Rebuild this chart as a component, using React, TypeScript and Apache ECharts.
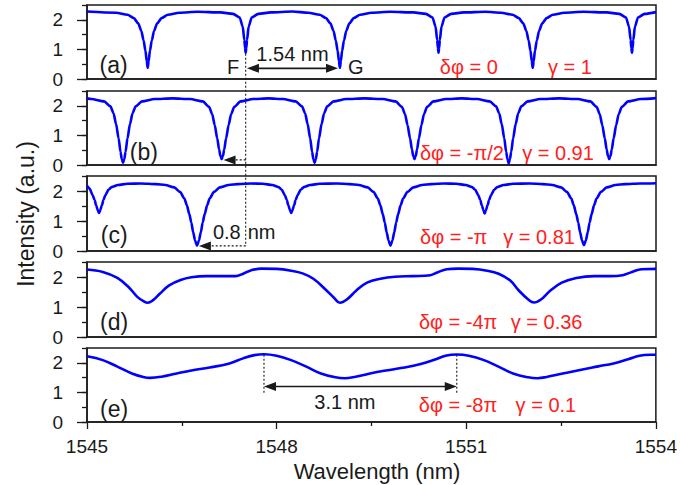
import React, { useEffect, useRef } from "react";
import * as echarts from "echarts";

// ---------- data (wavelength nm, intensity a.u.) ----------
const X_TICK_VALUES = [1545, 1548, 1551, 1554];
const Y_TICK_VALUES = [0, 1, 2];

const panelA: [number, number][] = [
  [1545.0, 2.28],
  [1545.46, 2.24], [1545.64, 2.17], [1545.74, 2.06], [1545.81, 1.88], [1545.86, 1.62], [1545.895, 1.3], [1545.925, 0.95], [1545.945, 0.6], [1545.96, 0.38], [1545.975, 0.6], [1545.995, 0.95], [1546.025, 1.3], [1546.06, 1.62], [1546.11, 1.88], [1546.18, 2.06], [1546.28, 2.17], [1546.46, 2.24],
  [1546.75, 2.27],
  [1547.11, 2.25], [1547.31, 2.2], [1547.415, 2.08], [1547.463, 1.77], [1547.489, 1.32], [1547.5, 1.05], [1547.51, 0.89], [1547.52, 1.05], [1547.531, 1.32], [1547.557, 1.77], [1547.605, 2.08], [1547.71, 2.2], [1547.91, 2.25],
  [1548.25, 2.28],
  [1548.5, 2.24], [1548.68, 2.17], [1548.78, 2.06], [1548.85, 1.88], [1548.9, 1.62], [1548.935, 1.3], [1548.965, 0.95], [1548.985, 0.6], [1549.0, 0.38], [1549.015, 0.6], [1549.035, 0.95], [1549.065, 1.3], [1549.1, 1.62], [1549.15, 1.88], [1549.22, 2.06], [1549.32, 2.17], [1549.5, 2.24],
  [1549.8, 2.27],
  [1550.16, 2.25], [1550.36, 2.2], [1550.465, 2.08], [1550.513, 1.77], [1550.539, 1.32], [1550.55, 1.05], [1550.56, 0.89], [1550.57, 1.05], [1550.581, 1.32], [1550.607, 1.77], [1550.655, 2.08], [1550.76, 2.2], [1550.96, 2.25],
  [1551.3, 2.27],
  [1551.55, 2.24], [1551.73, 2.17], [1551.83, 2.06], [1551.9, 1.88], [1551.95, 1.62], [1551.985, 1.3], [1552.015, 0.95], [1552.035, 0.6], [1552.05, 0.38], [1552.065, 0.6], [1552.085, 0.95], [1552.115, 1.3], [1552.15, 1.62], [1552.2, 1.88], [1552.27, 2.06], [1552.37, 2.17], [1552.55, 2.24],
  [1552.85, 2.27],
  [1553.22, 2.25], [1553.42, 2.2], [1553.525, 2.08], [1553.573, 1.77], [1553.599, 1.32], [1553.61, 1.05], [1553.62, 0.89], [1553.63, 1.05], [1553.641, 1.32], [1553.667, 1.77], [1553.715, 2.08], [1553.82, 2.2],
  [1554.0, 2.26],
];

const panelB: [number, number][] = [
  [1545.0, 2.25],
  [1545.07, 2.23], [1545.27, 2.15], [1545.37, 1.98], [1545.42, 1.75], [1545.46, 1.38], [1545.5, 0.9], [1545.53, 0.45], [1545.55, 0.2], [1545.57, 0.07], [1545.59, 0.2], [1545.61, 0.45], [1545.64, 0.9], [1545.68, 1.38], [1545.72, 1.75], [1545.77, 1.98], [1545.87, 2.15], [1546.07, 2.23],
  [1546.35, 2.25],
  [1546.63, 2.23], [1546.83, 2.15], [1546.93, 1.97], [1546.98, 1.72], [1547.02, 1.35], [1547.06, 0.9], [1547.09, 0.52], [1547.11, 0.3], [1547.13, 0.2], [1547.15, 0.3], [1547.17, 0.52], [1547.2, 0.9], [1547.24, 1.35], [1547.28, 1.72], [1547.33, 1.97], [1547.43, 2.15], [1547.63, 2.23],
  [1547.87, 2.25],
  [1548.1, 2.23], [1548.3, 2.15], [1548.4, 1.98], [1548.45, 1.75], [1548.49, 1.38], [1548.53, 0.9], [1548.56, 0.45], [1548.58, 0.2], [1548.6, 0.07], [1548.62, 0.2], [1548.64, 0.45], [1548.67, 0.9], [1548.71, 1.38], [1548.75, 1.75], [1548.8, 1.98], [1548.9, 2.15], [1549.1, 2.23],
  [1549.39, 2.25],
  [1549.68, 2.23], [1549.88, 2.15], [1549.98, 1.97], [1550.03, 1.72], [1550.07, 1.35], [1550.11, 0.9], [1550.14, 0.52], [1550.16, 0.3], [1550.18, 0.2], [1550.2, 0.3], [1550.22, 0.52], [1550.25, 0.9], [1550.29, 1.35], [1550.33, 1.72], [1550.38, 1.97], [1550.48, 2.15], [1550.68, 2.23],
  [1550.93, 2.25],
  [1551.17, 2.23], [1551.37, 2.15], [1551.47, 1.98], [1551.52, 1.75], [1551.56, 1.38], [1551.6, 0.9], [1551.63, 0.45], [1551.65, 0.2], [1551.67, 0.05], [1551.69, 0.2], [1551.71, 0.45], [1551.74, 0.9], [1551.78, 1.38], [1551.82, 1.75], [1551.87, 1.98], [1551.97, 2.15], [1552.17, 2.23],
  [1552.47, 2.25],
  [1552.76, 2.23], [1552.96, 2.15], [1553.06, 1.97], [1553.11, 1.72], [1553.15, 1.35], [1553.19, 0.9], [1553.22, 0.52], [1553.24, 0.3], [1553.26, 0.2], [1553.28, 0.3], [1553.3, 0.52], [1553.33, 0.9], [1553.37, 1.35], [1553.41, 1.72], [1553.46, 1.97], [1553.56, 2.15], [1553.76, 2.23],
  [1554.0, 2.26],
];

const panelC: [number, number][] = [
  [1545.0, 2.18], [1545.04, 2.08], [1545.09, 1.86], [1545.12, 1.7], [1545.145, 1.52], [1545.17, 1.36], [1545.19, 1.27], [1545.21, 1.36], [1545.235, 1.52], [1545.26, 1.7], [1545.29, 1.86], [1545.34, 2.04], [1545.39, 2.13], [1545.49, 2.2], [1545.64, 2.24],
  [1545.85, 2.25],
  [1546.09, 2.23], [1546.24, 2.2], [1546.38, 2.12], [1546.47, 1.97], [1546.54, 1.75], [1546.58, 1.52], [1546.62, 1.22], [1546.65, 0.95], [1546.68, 0.62], [1546.71, 0.35], [1546.74, 0.18], [1546.77, 0.35], [1546.8, 0.62], [1546.83, 0.95], [1546.86, 1.22], [1546.9, 1.52], [1546.94, 1.75], [1547.01, 1.97], [1547.1, 2.12], [1547.24, 2.2], [1547.39, 2.23],
  [1547.6, 2.25],
  [1547.78, 2.24], [1547.93, 2.2], [1548.03, 2.13], [1548.08, 2.04], [1548.13, 1.86], [1548.16, 1.7], [1548.185, 1.52], [1548.21, 1.36], [1548.23, 1.27], [1548.25, 1.36], [1548.275, 1.52], [1548.3, 1.7], [1548.33, 1.86], [1548.38, 2.04], [1548.43, 2.13], [1548.53, 2.2], [1548.68, 2.24],
  [1548.95, 2.25],
  [1549.15, 2.23], [1549.3, 2.2], [1549.44, 2.12], [1549.53, 1.97], [1549.6, 1.75], [1549.64, 1.52], [1549.68, 1.22], [1549.71, 0.95], [1549.74, 0.62], [1549.77, 0.35], [1549.8, 0.18], [1549.83, 0.35], [1549.86, 0.62], [1549.89, 0.95], [1549.92, 1.22], [1549.96, 1.52], [1550.0, 1.75], [1550.07, 1.97], [1550.16, 2.12], [1550.3, 2.2], [1550.45, 2.23],
  [1550.65, 2.25],
  [1550.84, 2.24], [1550.99, 2.2], [1551.09, 2.13], [1551.14, 2.04], [1551.19, 1.86], [1551.22, 1.7], [1551.245, 1.52], [1551.27, 1.36], [1551.29, 1.25], [1551.31, 1.36], [1551.335, 1.52], [1551.36, 1.7], [1551.39, 1.86], [1551.44, 2.04], [1551.49, 2.13], [1551.59, 2.2], [1551.74, 2.24],
  [1552.0, 2.25],
  [1552.21, 2.23], [1552.36, 2.2], [1552.5, 2.12], [1552.59, 1.97], [1552.66, 1.75], [1552.7, 1.52], [1552.74, 1.22], [1552.77, 0.95], [1552.8, 0.62], [1552.83, 0.35], [1552.86, 0.2], [1552.89, 0.35], [1552.92, 0.62], [1552.95, 0.95], [1552.98, 1.22], [1553.02, 1.52], [1553.06, 1.75], [1553.13, 1.97], [1553.22, 2.12], [1553.36, 2.2], [1553.51, 2.23],
  [1553.75, 2.25], [1554.0, 2.26],
];

const panelD: [number, number][] = [
  [1545.0, 2.25], [1545.25, 2.17], [1545.48, 1.97], [1545.66, 1.66], [1545.8, 1.33], [1545.92, 1.16], [1545.96, 1.14], [1546.04, 1.22], [1546.15, 1.44], [1546.3, 1.72], [1546.48, 1.9], [1546.65, 1.99], [1546.89, 2.03], [1547.12, 2.03], [1547.35, 2.03], [1547.47, 2.11], [1547.59, 2.22], [1547.76, 2.28],
  [1548.0, 2.27], [1548.23, 2.21], [1548.41, 2.12], [1548.58, 1.94], [1548.76, 1.61], [1548.91, 1.3], [1549.0, 1.14], [1549.11, 1.25], [1549.26, 1.55], [1549.43, 1.81], [1549.64, 1.94], [1549.87, 2.01], [1550.16, 2.03], [1550.43, 2.06], [1550.54, 2.15], [1550.69, 2.26], [1550.87, 2.28],
  [1551.1, 2.27], [1551.33, 2.21], [1551.51, 2.11], [1551.69, 1.89], [1551.83, 1.55], [1551.98, 1.25], [1552.07, 1.15], [1552.18, 1.25], [1552.33, 1.55], [1552.51, 1.81], [1552.74, 1.97], [1553.03, 2.03], [1553.27, 2.03], [1553.47, 2.06], [1553.62, 2.17], [1553.77, 2.26], [1554.0, 2.27],
];

const panelE: [number, number][] = [
  [1545.0, 2.22], [1545.25, 2.09], [1545.48, 1.87], [1545.71, 1.64], [1545.89, 1.52], [1546.0, 1.49], [1546.18, 1.53], [1546.42, 1.64], [1546.65, 1.74], [1546.94, 1.84], [1547.24, 1.97], [1547.47, 2.15], [1547.65, 2.26], [1547.8, 2.29],
  [1548.0, 2.24], [1548.23, 2.09], [1548.47, 1.87], [1548.7, 1.64], [1548.93, 1.51], [1549.08, 1.48], [1549.23, 1.52], [1549.46, 1.63], [1549.7, 1.73], [1549.99, 1.83], [1550.28, 1.96], [1550.52, 2.12], [1550.69, 2.25], [1550.85, 2.28],
  [1551.04, 2.24], [1551.28, 2.09], [1551.51, 1.87], [1551.74, 1.64], [1551.98, 1.51], [1552.13, 1.48], [1552.27, 1.52], [1552.51, 1.63], [1552.8, 1.76], [1553.09, 1.88], [1553.33, 1.98], [1553.56, 2.12], [1553.74, 2.24], [1553.91, 2.27], [1554.0, 2.27],
];

const PANELS = [panelA, panelB, panelC, panelD, panelE];
const PANEL_LETTERS = ["(a)", "(b)", "(c)", "(d)", "(e)"];
const DELTA_PHI = ["δφ = 0", "δφ = -π/2", "δφ = -π", "δφ = -4π", "δφ = -8π"];
const GAMMA = ["γ = 1", "γ = 0.91", "γ = 0.81", "γ = 0.36", "γ = 0.1"];

// annotation anchors, in data units [wavelength, intensity]
const LETTER_AT: [number, number][] = [[1545.42, 0.47], [1545.9, 0.44], [1545.43, 0.54], [1545.43, 0.51], [1545.43, 0.44]];
const DPHI_AT: [number, number][] = [[1551.04, 0.41], [1550.93, 0.41], [1550.8, 0.47], [1550.87, 0.51], [1550.87, 0.58]];
const GAMMA_AT: [number, number][] = [[1552.64, 0.41], [1552.45, 0.41], [1552.15, 0.47], [1552.27, 0.51], [1552.26, 0.58]];
const F_WL = 1547.51;
const G_WL = 1548.97;
const FSR_PEAKS = [1547.8, 1550.85];

// ---------- layout ----------
const LEFT = 87;
const WIDTH = 569;
const TOPS = [5, 91, 176, 262, 348];
const HEIGHTS = [74, 74, 75, 75, 74];
const SMOOTH = [0.25, 0.25, 0.25, 0.4, 0.4];
const FONT = '"Liberation Sans", Arial, sans-serif';
const INK = "#1a1a1a";
const RED = "#ff2020";

export default function App() {
  const ref = useRef<HTMLDivElement>(null);
  useEffect(() => {
    if (!ref.current) return;
    const chart = echarts.init(ref.current, null, { renderer: "svg" });
    const grids = TOPS.map((t, i) => ({
      left: LEFT,
      width: WIDTH,
      top: t,
      height: HEIGHTS[i],
      show: true,
      borderColor: INK,
      borderWidth: 1.5,
      backgroundColor: "transparent",
    }));
    const xAxes = PANELS.map((_, i) => ({
      gridIndex: i,
      type: "value",
      min: 1545,
      max: 1554,
      interval: 3,
      axisLine: { show: true, lineStyle: { color: INK, width: 1.5 } },
      axisTick: { show: i === 4, inside: false, length: 7, lineStyle: { color: INK, width: 1.3 } },
      minorTick: { show: i === 4, splitNumber: 2, length: 4, lineStyle: { color: INK, width: 1.3 } },
      axisLabel: {
        show: i === 4,
        customValues: X_TICK_VALUES,
        formatter: (v: number) => String(Math.round(v)),
        margin: 15,
        color: INK,
        fontSize: 19,
        fontFamily: FONT,
      },
      splitLine: { show: false },
      minorSplitLine: { show: false },
    }));
    const yAxes: any[] = [];
    PANELS.forEach((_, i) => {
      yAxes.push({
        gridIndex: i,
        type: "value",
        position: "left",
        min: 0,
        max: 2.5,
        interval: 0.5,
        axisLine: { show: true, lineStyle: { color: INK, width: 1.5 } },
        axisTick: { show: true, inside: false, length: 5, lineStyle: { color: INK, width: 1.3 } },
        axisLabel: {
          show: true,
          customValues: Y_TICK_VALUES,
          formatter: (v: number) => String(Math.round(v)),
          margin: 24,
          color: INK,
          fontSize: 19,
          fontFamily: FONT,
        },
        splitLine: { show: false },
      });
      yAxes.push({
        gridIndex: i,
        type: "value",
        position: "left",
        offset: 0,
        min: 0,
        max: 2.5,
        interval: 0.5,
        axisLine: { show: false },
        axisTick: { show: true, inside: false, length: 10, customValues: Y_TICK_VALUES, lineStyle: { color: INK, width: 1.3 } },
        axisLabel: { show: false },
        splitLine: { show: false },
      });
    });
    const series = PANELS.map((d, i) => ({
      type: "line",
      xAxisIndex: i,
      yAxisIndex: 2 * i,
      data: d,
      showSymbol: false,
      smooth: SMOOTH[i],
      smoothMonotone: i < 3 ? "x" : undefined,
      lineStyle: { color: "#0000ff", width: 2.6 },
      z: 3,
    }));
    chart.setOption({
      animation: false,
      backgroundColor: "#ffffff",
      grid: grids,
      xAxis: xAxes,
      yAxis: yAxes,
      series,
    });

    const px = (g: number, p: [number, number]) => chart.convertToPixel({ gridIndex: g }, p) as number[];
    const txt = (x: number, y: number, text: string, size: number, color: string, align = "center", rotation = 0) => ({
      type: "text",
      x,
      y,
      rotation,
      z: 10,
      style: {
        text,
        fill: color,
        fontSize: size,
        fontFamily: FONT,
        align,
        verticalAlign: "middle",
        textAlign: align,
        textVerticalAlign: "middle",
      },
    });
    const line = (a: number[], b: number[], dashed: boolean, w = 1.3) => ({
      type: "line",
      z: 10,
      shape: { x1: a[0], y1: a[1], x2: b[0], y2: b[1] },
      style: { stroke: INK, lineWidth: w, lineDash: dashed ? [2, 2] : null },
    });
    const head = (tip: number[], dir: number) => ({
      type: "polygon",
      z: 11,
      shape: {
        points: [
          [tip[0], tip[1]],
          [tip[0] - dir * 12, tip[1] - 4.5],
          [tip[0] - dir * 12, tip[1] + 4.5],
        ],
      },
      style: { fill: INK },
    });

    const g: any[] = [];
    PANELS.forEach((_, i) => {
      const l = px(i, LETTER_AT[i]);
      g.push(txt(l[0], l[1], PANEL_LETTERS[i], 23, INK));
      const d = px(i, DPHI_AT[i]);
      g.push(txt(d[0], d[1], DELTA_PHI[i], 20, RED));
      const c = px(i, GAMMA_AT[i]);
      g.push(txt(c[0], c[1], GAMMA[i], 20, RED));
    });
    // F dotted guide through (a), (b), (c)
    g.push(line(px(0, [F_WL, 0.85]), px(2, [F_WL, 0.17]), true, 1.1));
    // (a) F -> G arrow
    const a1 = px(0, [F_WL + 0.02, 0.36]);
    const a2 = px(0, [G_WL, 0.36]);
    g.push(line([a1[0] + 8, a1[1]], [a2[0] - 8, a2[1]], false, 1.6));
    g.push(head(a1, -1), head(a2, 1));
    const f = px(0, [1547.31, 0.39]);
    g.push(txt(f[0], f[1], "F", 20, INK));
    const gg = px(0, [1549.25, 0.39]);
    g.push(txt(gg[0], gg[1], "G", 20, INK));
    const t154 = px(0, [1548.25, 0.83]);
    g.push(txt(t154[0], t154[1], "1.54 nm", 20, INK));
    // (b) dotted arrow
    const b1 = px(1, [F_WL, 0.17]);
    const b2 = px(1, [1547.16, 0.17]);
    g.push(line(b1, [b2[0] + 8, b2[1]], true, 1.3), head(b2, -1));
    // (c) dotted arrow
    const c1 = px(2, [F_WL, 0.17]);
    const c2 = px(2, [1546.77, 0.17]);
    g.push(line(c1, [c2[0] + 8, c2[1]], true, 1.3), head(c2, -1));
    const t08 = px(2, [F_WL, 0.64]);
    g.push(txt(t08[0] - 5, t08[1], "0.8", 20, INK, "right"));
    g.push(txt(t08[0] + 2, t08[1], "nm", 20, INK, "left"));
    // (e) FSR markers
    FSR_PEAKS.forEach((w) => {
      g.push(line(px(4, [w, 2.27]), px(4, [w, 0.95]), true, 1.1));
    });
    const e1 = px(4, [FSR_PEAKS[0], 1.2]);
    const e2 = px(4, [FSR_PEAKS[1], 1.2]);
    g.push(line([e1[0] + 8, e1[1]], [e2[0] - 8, e2[1]], false, 1.6));
    g.push(head(e1, -1), head(e2, 1));
    const t31 = px(4, [1549.08, 0.67]);
    g.push(txt(t31[0], t31[1], "3.1 nm", 20, INK));
    // axis titles
    g.push(txt(26, 214, "Intensity (a.u.)", 23, INK, "center", Math.PI / 2));
    g.push(txt(377, 471, "Wavelength (nm)", 22, INK, "center"));

    chart.setOption({ graphic: g });
    return () => chart.dispose();
  }, []);
  return <div ref={ref} style={{ position: "absolute", left: 0, top: 0, width: 680, height: 485 }} />;
}
